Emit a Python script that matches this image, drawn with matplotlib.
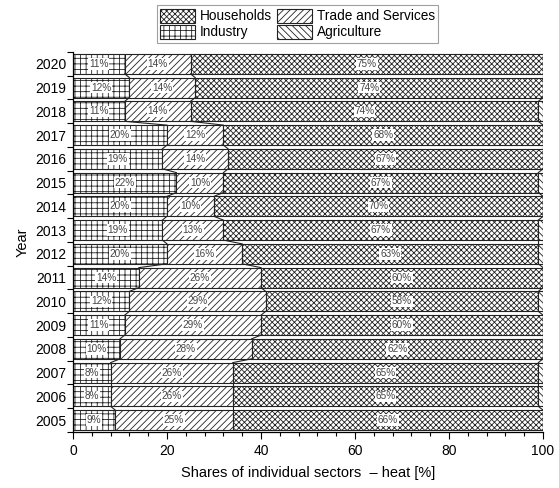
import matplotlib.pyplot as plt
import numpy as np
from matplotlib.ticker import MultipleLocator

plt.rcParams['font.family'] = ['Liberation Sans', 'DejaVu Sans']
plt.rcParams['hatch.linewidth'] = 0.6
plt.rcParams['hatch.color'] = '#3a3a3a'

years = [2005, 2006, 2007, 2008, 2009, 2010, 2011, 2012,
         2013, 2014, 2015, 2016, 2017, 2018, 2019, 2020]
industry = [9, 8, 8, 10, 11, 12, 14, 20, 19, 20, 22, 19, 20, 11, 12, 11]
trade = [25, 26, 26, 28, 29, 29, 26, 16, 13, 10, 10, 14, 12, 14, 14, 14]
households = [66, 65, 65, 62, 60, 58, 60, 63, 67, 70, 67, 67, 68, 74, 74, 75]
agriculture = [0, 1, 1, 0, 0, 1, 0, 1, 1, 0, 1, 0, 0, 1, 0, 0]

series = [("Industry", industry, "+++"),
          ("Trade and Services", trade, "/////"),
          ("Households", households, "xxxxxx"),
          ("Agriculture", agriculture, "\\\\\\\\\\")]

fig = plt.figure(figsize=(5.59, 4.88), dpi=100)
ax = fig.add_axes([0.1306, 0.1148, 0.8408, 0.7787])

y = np.arange(len(years))
h = 0.84
left = np.zeros(len(years))
bars = {}
edges = [left.copy()]
for name, vals, hatch in series:
    vals = np.array(vals, dtype=float)
    b = ax.barh(y, vals, height=h, left=left, color='white',
                edgecolor='#222222', linewidth=0.8, hatch=hatch, label=name)
    bars[name] = b
    for yi, l, v in zip(y, left, vals):
        if v >= 5:
            ax.text(l + v / 2, yi, f"{int(v)}%", ha='center', va='center',
                    fontsize=7.2, color='#444444',
                    bbox=dict(facecolor='white', edgecolor='none', pad=0.6))
    left = left + vals
    edges.append(left.copy())

# connecting lines across the gaps between neighbouring bars
for e in edges[1:]:
    for i in range(len(years) - 1):
        ax.plot([e[i], e[i + 1]], [y[i] + h / 2, y[i + 1] - h / 2],
                color='#222222', lw=0.8, zorder=3)

ax.set_xlim(0, 100)
ax.set_ylim(-0.5, len(years) - 0.5)
ax.set_yticks(y)
ax.set_yticklabels([str(v) for v in years], fontsize=10)
ax.set_yticks(np.arange(-0.5, len(years), 1), minor=True)
ax.tick_params(axis='y', which='major', length=0, pad=5)
ax.tick_params(axis='y', which='minor', length=4, direction='out', width=0.8)
ax.xaxis.set_major_locator(MultipleLocator(20))
ax.xaxis.set_minor_locator(MultipleLocator(4))
ax.tick_params(axis='x', which='major', length=5, direction='out', width=0.8,
               labelsize=10)
ax.tick_params(axis='x', which='minor', length=3, direction='out', width=0.8)

for s in ['top', 'right']:
    ax.spines[s].set_visible(False)
for s in ['left', 'bottom']:
    ax.spines[s].set_linewidth(0.9)

ax.set_xlabel("Shares of individual sectors  \u2013 heat [%]", fontsize=10.5,
              labelpad=6)
ax.set_ylabel("Year", fontsize=10.5, labelpad=4)

handles = [bars["Households"], bars["Industry"],
           bars["Trade and Services"], bars["Agriculture"]]
labels = ["Households", "Industry", "Trade and Services", "Agriculture"]
leg = fig.legend(handles, labels, ncol=2, loc='center',
                 bbox_to_anchor=(0.532, 0.951), fontsize=9.8,
                 frameon=True, fancybox=False, edgecolor='#888888',
                 handlelength=2.6, handleheight=1.2, handletextpad=0.3,
                 columnspacing=0.4, labelspacing=0.1, borderpad=0.25)
leg.get_frame().set_linewidth(0.8)

fig.savefig("out.png", dpi=100)
